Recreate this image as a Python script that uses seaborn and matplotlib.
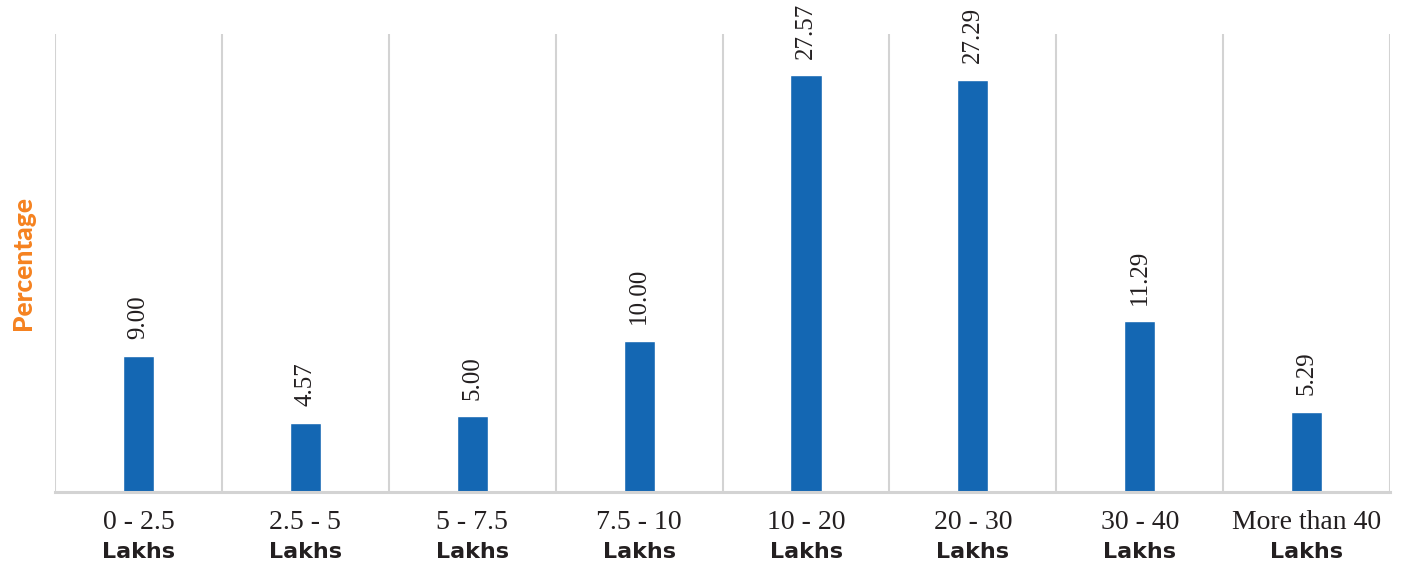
import matplotlib
matplotlib.use("Agg")
import matplotlib.pyplot as plt
import seaborn as sns
import pandas as pd

# Income bands and share of respondents (%)
bands = ["0 - 2.5", "2.5 - 5", "5 - 7.5", "7.5 - 10",
         "10 - 20", "20 - 30", "30 - 40", "More than 40"]
unit = "Lakhs"
percentages = [9.00, 4.57, 5.00, 10.00, 27.57, 27.29, 11.29, 5.29]

df = pd.DataFrame({"band": bands, "pct": percentages})

sns.set_theme(style="white")
plt.rcParams["font.family"] = ["DejaVu Sans"]

BAR = "#1467b3"
GRID = "#d3d3d3"
ORANGE = "#f58220"
INK = "#231f20"
SERIF = "Liberation Serif"

fig = plt.figure(figsize=(14.01, 5.64), dpi=100)
ax = fig.add_axes([0.0393, 0.1277, 0.9529, 0.812])

sns.barplot(data=df, x="band", y="pct", color=BAR, width=0.186,
            saturation=1, ax=ax)

ax.set_xlim(-0.5, len(bands) - 0.5)
ax.set_ylim(0, 30.3)
ax.set_yticks([])

# vertical separators between categories
for xb in [i - 0.5 for i in range(len(bands) + 1)]:
    ax.axvline(xb, color=GRID, lw=1.5, zorder=0)

for side in ["left", "right", "top"]:
    ax.spines[side].set_visible(False)
ax.spines["bottom"].set_color(GRID)
ax.spines["bottom"].set_linewidth(2.2)

# value labels above bars
ax.bar_label(ax.containers[0], labels=[f"{v:.2f}" for v in percentages],
             rotation=90, padding=12, fontfamily=SERIF, fontsize=18,
             color=INK)

# two-line category labels
ax.set_xticks(range(len(bands)))
ax.set_xticklabels(bands, fontfamily=SERIF, fontsize=20, color=INK)
ax.tick_params(axis="x", length=0, pad=13)
trans = ax.get_xaxis_transform()
for i in range(len(bands)):
    ax.text(i, -0.13, unit, transform=trans, ha="center", va="center",
            fontsize=16, fontweight="bold", color=INK)

ax.set_xlabel("")
ax.set_ylabel("Percentage", color=ORANGE, fontsize=19,
              fontfamily=["Lato", "DejaVu Sans"], fontweight="black")
ax.yaxis.set_label_coords(-0.015, 0.5)

fig.savefig("out.png", dpi=100)
